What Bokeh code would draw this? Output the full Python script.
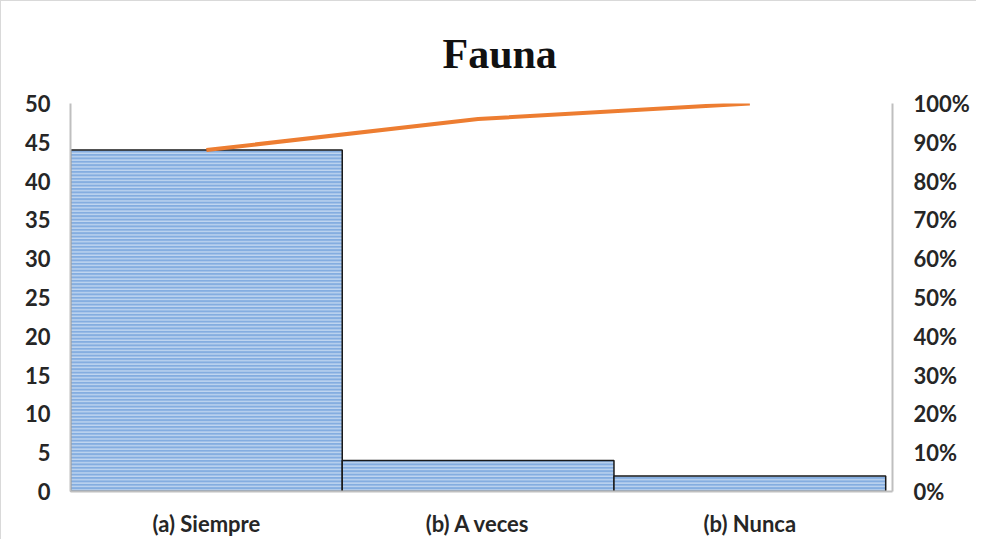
from bokeh.plotting import figure
from bokeh.models import Range1d, LinearAxis, NumeralTickFormatter, FixedTicker, ColumnDataSource
from bokeh.embed import file_html
from bokeh.resources import INLINE

# ---- data ----
title_text = "Fauna"
categories = ["(a) Siempre", "(b) A veces", "(b) Nunca"]
counts = [44, 4, 2]
cumulative_pct = [0.88, 0.96, 1.00]
left_ticks = [0, 5, 10, 15, 20, 25, 30, 35, 40, 45, 50]
right_ticks = [0.0, 0.1, 0.2, 0.3, 0.4, 0.5, 0.6, 0.7, 0.8, 0.9, 1.0]

xs = [i + 0.5 for i in range(len(categories))]
src = ColumnDataSource(dict(x=xs, top=counts, cum=cumulative_pct, cat=categories))

FONT = "Lato"
FSIZE = "22px"
LABEL_COLOR = "#262626"
AXIS_COLOR = "#bfbfbf"

p = figure(width=976, height=539, x_range=Range1d(0, 3.025), y_range=Range1d(0, 50),
           output_backend="svg", toolbar_location=None,
           min_border_left=69, min_border_right=85, min_border_top=102, min_border_bottom=49)
p.styles = {"border-top": "1px solid #d9d9d9", "border-left": "1px solid #d9d9d9"}
p.outline_line_color = None
p.grid.visible = False
p.background_fill_color = "white"
p.border_fill_color = "white"

p.title.text = title_text
p.title.align = "left"
p.title.offset = 372
p.title.vertical_align = "top"
p.title.standoff = 49
p.title.text_font = "Liberation Serif"
p.title.text_font_size = "42px"
p.title.text_font_style = "bold"
p.title.text_color = "#111111"

p.vbar(x="x", top="top", width=1.0, source=src, fill_color="#84ade0",
       hatch_pattern="horizontal_line", hatch_color="#c6daf2", hatch_weight=1.3, hatch_scale=3.4,
       line_color="#1a1a1a", line_width=1.5)

p.extra_y_ranges = {"pct": Range1d(0, 1)}
p.line(x="x", y="cum", source=src, y_range_name="pct", line_color="#ed7d31", line_width=4)

# left axis
ya = p.yaxis[0]
ya.ticker = FixedTicker(ticks=left_ticks)
ya.axis_line_color = AXIS_COLOR
ya.axis_line_width = 2
ya.major_tick_line_color = None
ya.minor_tick_line_color = None
ya.major_label_standoff = 14
ya.major_label_text_font = FONT
ya.major_label_text_font_style = "bold"
ya.major_label_text_font_size = FSIZE
ya.major_label_text_color = LABEL_COLOR

# bottom axis
xa = p.xaxis[0]
xa.ticker = FixedTicker(ticks=xs)
xa.major_label_overrides = {x: c for x, c in zip(xs, categories)}
xa.axis_line_color = AXIS_COLOR
xa.axis_line_width = 2
xa.major_tick_line_color = None
xa.minor_tick_line_color = None
xa.major_label_standoff = 12
xa.major_label_text_font = FONT
xa.major_label_text_font_style = "bold"
xa.major_label_text_font_size = FSIZE
xa.major_label_text_color = LABEL_COLOR

# right axis
ra = LinearAxis(y_range_name="pct", ticker=FixedTicker(ticks=right_ticks),
                formatter=NumeralTickFormatter(format="0%"))
ra.axis_line_color = AXIS_COLOR
ra.axis_line_width = 2
ra.major_tick_line_color = None
ra.minor_tick_line_color = None
ra.major_label_standoff = 15
ra.major_label_text_font = FONT
ra.major_label_text_font_style = "bold"
ra.major_label_text_font_size = FSIZE
ra.major_label_text_color = LABEL_COLOR
p.add_layout(ra, "right")

open("out.html", "w").write(file_html(p, INLINE))
